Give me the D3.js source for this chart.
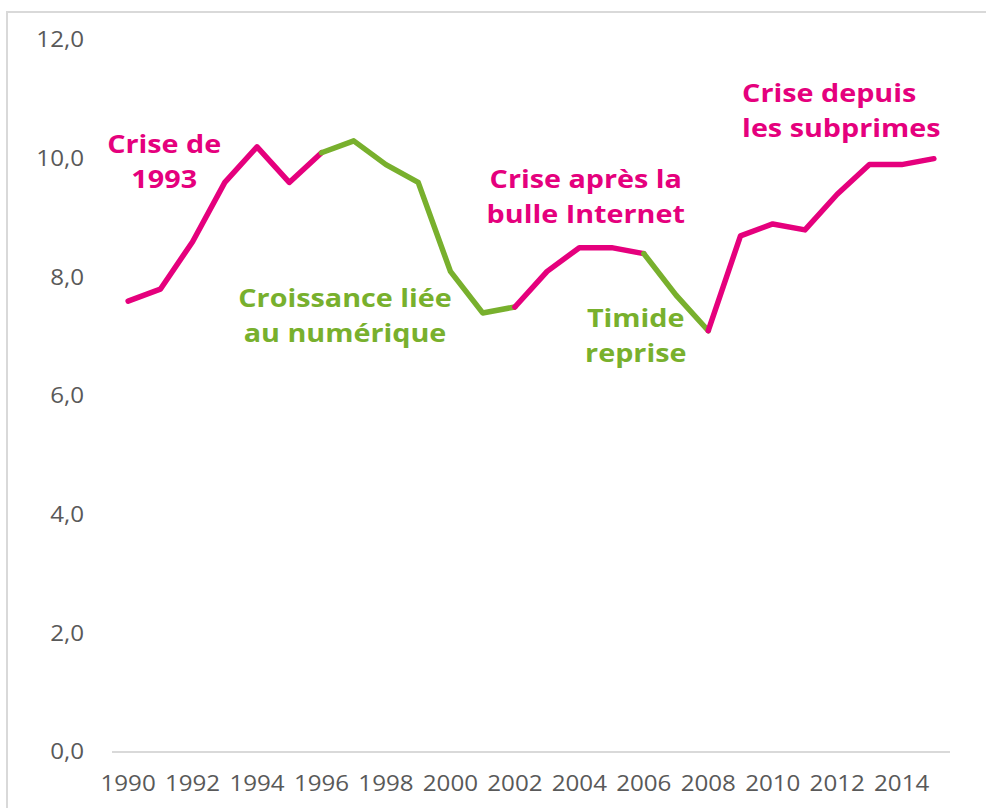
<!DOCTYPE html>
<html lang="fr">
<head>
<meta charset="utf-8">
<title>Crises et croissance</title>
<script src="https://d3js.org/d3.v7.min.js"></script>
<style>
  body { margin: 0; background: #fff; }
  svg text { font-family: "Open Sans", "Noto Sans", sans-serif; }
  .tick-label { fill: #595959; font-size: 21px; }
  .note { font-weight: 700; font-size: 25px; }
</style>
</head>
<body>
<div id="chart"></div>
<script>
// data
const years = d3.range(1990, 2016);
const values = [7.6, 7.8, 8.6, 9.6, 10.2, 9.6, 10.1, 10.3, 9.9, 9.6, 8.1, 7.4, 7.5,
                8.1, 8.5, 8.5, 8.4, 7.7, 7.1, 8.7, 8.9, 8.8, 9.4, 9.9, 9.9, 10.0];
const yTicks = [0, 2, 4, 6, 8, 10, 12];
const xTickYears = d3.range(1990, 2015, 2);

// periods: [start, end, kind]
const periods = [
  [1990, 1996, "crise"],
  [1996, 2002, "croissance"],
  [2002, 2006, "crise"],
  [2006, 2008, "croissance"],
  [2008, 2015, "crise"]
];

// annotations: text lines, anchor year, value, kind
const notes = [
  { lines: ["Crise de", "1993"], year: 1991.12, value: 10.1, kind: "crise", anchor: "middle" },
  { lines: ["Croissance liée", "au numérique"], year: 1996.73, value: 7.5, kind: "croissance", anchor: "middle" },
  { lines: ["Crise après la", "bulle Internet"], year: 2004.2, value: 9.5, kind: "crise", anchor: "middle" },
  { lines: ["Timide", "reprise"], year: 2005.75, value: 7.16, kind: "croissance", anchor: "middle" },
  { lines: ["Crise depuis", "les subprimes"], year: 2009.05, value: 10.96, kind: "crise", anchor: "start" }
];

const colors = { crise: "#E5007D", croissance: "#78B02D" };

const W = 986, H = 808;
const stretch = 1.15; // text in the original is drawn a bit wider

const svg = d3.select("#chart").append("svg")
  .attr("width", W)
  .attr("height", H);

// chart frame
svg.append("rect")
  .attr("x", 7).attr("y", 12)
  .attr("width", W + 10).attr("height", H + 10)
  .attr("fill", "none")
  .attr("stroke", "#d9d9d9")
  .attr("stroke-width", 2);

const x = d3.scaleBand()
  .domain(years)
  .range([112, 950]);

const xc = yr => x.step() * (yr - 1990) + x(1990) + x.bandwidth() / 2;

const y = d3.scaleLinear()
  .domain([0, 12])
  .range([752, 40]);

const place = (px, py) => `translate(${px},${py}) scale(${stretch},1)`;

// baseline
svg.append("line")
  .attr("x1", 112).attr("x2", 950)
  .attr("y1", y(0)).attr("y2", y(0))
  .attr("stroke", "#d9d9d9")
  .attr("stroke-width", 2);

// y tick labels
svg.selectAll("text.ylab")
  .data(yTicks)
  .enter()
  .append("text")
  .attr("class", "tick-label ylab")
  .attr("transform", d => place(84, y(d)))
  .attr("dy", "0.35em")
  .attr("text-anchor", "end")
  .text(d => d3.format(".1f")(d).replace(".", ","));

// x tick labels
svg.selectAll("text.xlab")
  .data(xTickYears)
  .enter()
  .append("text")
  .attr("class", "tick-label xlab")
  .attr("transform", d => place(xc(d), 791))
  .attr("text-anchor", "middle")
  .text(d => d);

// line, one path per period
const line = d3.line()
  .x(d => xc(d[0]))
  .y(d => y(d[1]));

svg.selectAll("path.seg")
  .data(periods)
  .enter()
  .append("path")
  .attr("class", "seg")
  .attr("fill", "none")
  .attr("stroke", d => colors[d[2]])
  .attr("stroke-width", 5.5)
  .attr("stroke-linecap", "round")
  .attr("stroke-linejoin", "round")
  .attr("d", p => line(years
    .map((yr, i) => [yr, values[i]])
    .filter(d => d[0] >= p[0] && d[0] <= p[1])));

// annotations
const g = svg.selectAll("text.note")
  .data(notes)
  .enter()
  .append("text")
  .attr("class", "note")
  .attr("fill", d => colors[d.kind])
  .attr("text-anchor", d => d.anchor)
  .attr("transform", d => place(xc(d.year), y(d.value)));

g.selectAll("tspan")
  .data(d => d.lines)
  .enter()
  .append("tspan")
  .attr("x", 0)
  .attr("dy", (d, i) => i === 0 ? 0 : 35)
  .text(d => d);
</script>
</body>
</html>
